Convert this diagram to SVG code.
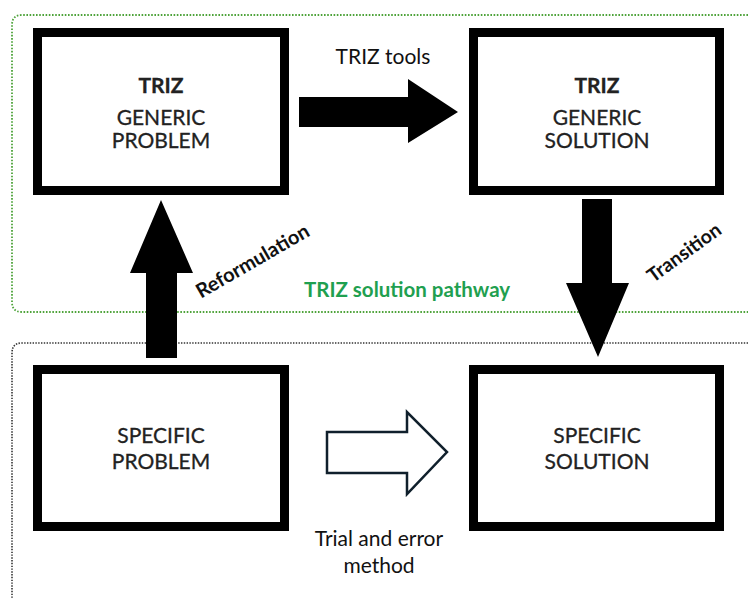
<svg xmlns="http://www.w3.org/2000/svg" width="749" height="599" viewBox="0 0 749 599">
<style>
.box{fill:#fff;stroke:#000;stroke-width:9}
.bt{font-family:"Lato","Open Sans",sans-serif;font-size:21px;fill:#222;text-anchor:middle;stroke:#222;stroke-width:0.3}
.bb{font-weight:bold}
.lbl{font-family:"Lato","Open Sans",sans-serif;font-size:21px;fill:#111;text-anchor:middle}
.rot{font-family:"Lato","Open Sans",sans-serif;font-weight:bold;fill:#111;text-anchor:middle}
.solid{fill:#000}
</style>
<rect width="749" height="599" fill="#fff"/>
<g id="regions">
<path d="M748,15 H22 Q12,15 12,25 V302 Q12,312 22,312 H748" fill="none" stroke="#4ea33a" stroke-width="1.8" stroke-dasharray="1.6 1.6"/>
<path d="M748,343 H22 Q12,343 12,353 V598" fill="none" stroke="#333" stroke-width="1.6" stroke-dasharray="1.4 1.4"/>
<text x="407" y="297" font-family="Lato,'Open Sans',sans-serif" font-size="20.5" font-weight="bold" fill="#1fa050" text-anchor="middle">TRIZ solution pathway</text>
</g>
<g id="connectors">
<polygon class="solid" points="299,97 408,97 408,79 458,112 408,143 408,127 299,127"/>
<polygon class="solid" points="146,358 146,273 130,273 161,200 193,273 177,273 177,358"/>
<polygon class="solid" points="582,199 612,199 612,283 629,283 598,357 566,283 582,283"/>
<polygon points="327,432 407,432 407,412 447,452 407,494 407,473 327,473" fill="#fff" stroke="#10202c" stroke-width="2.5"/>
<text class="lbl" x="383" y="64">TRIZ tools</text>
<text class="rot" font-size="20" transform="translate(256,267) rotate(-30)">Reformulation</text>
<text class="rot" font-size="19.5" transform="translate(688,258) rotate(-36)">Transition</text>
<text class="lbl" x="379" y="546">Trial and error</text>
<text class="lbl" x="379" y="573">method</text>
</g>
<g id="generic-problem">
<rect class="box" x="37.5" y="32.5" width="247" height="158"/>
<text class="bt bb" x="161" y="93">TRIZ</text>
<text class="bt" x="161" y="125">GENERIC</text>
<text class="bt" x="161" y="148">PROBLEM</text>
</g>
<g id="generic-solution">
<rect class="box" x="473.5" y="32.5" width="246" height="158"/>
<text class="bt bb" x="597" y="93">TRIZ</text>
<text class="bt" x="597" y="125">GENERIC</text>
<text class="bt" x="597" y="148">SOLUTION</text>
</g>
<g id="specific-problem">
<rect class="box" x="37.5" y="369.5" width="247" height="157"/>
<text class="bt" x="161" y="443">SPECIFIC</text>
<text class="bt" x="161" y="469">PROBLEM</text>
</g>
<g id="specific-solution">
<rect class="box" x="473.5" y="369.5" width="246" height="157"/>
<text class="bt" x="597" y="443">SPECIFIC</text>
<text class="bt" x="597" y="469">SOLUTION</text>
</g>
</svg>
